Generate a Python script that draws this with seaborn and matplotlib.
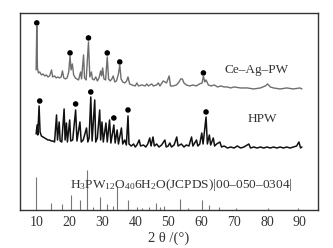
import numpy as np
import pandas as pd
import matplotlib
matplotlib.use("Agg")
import matplotlib.pyplot as plt
import seaborn as sns

# Ce-Ag-PW trace (2theta, intensity a.u.)
ce_x = [9.9, 10.1, 10.3, 10.6, 11.0, 11.5, 12.0, 12.5, 13.0, 13.5, 14.0, 14.6, 14.9, 15.5, 16.0,
        16.5, 17.0, 17.5, 17.9, 18.3, 18.8, 19.3, 19.8, 20.2, 20.5, 20.9, 21.3, 21.8, 22.3, 22.8,
        23.4, 23.7, 24.3, 24.6, 25.1, 25.8, 26.2, 26.7, 27.0, 27.5, 28.0, 28.5, 29.0, 29.5, 29.8,
        30.1, 30.5, 31.0, 31.5, 31.9, 32.4, 32.9, 33.3, 33.8, 34.3, 34.9, 35.3, 35.7, 36.2, 36.8,
        37.4, 37.8, 38.3, 39.0, 40.0, 40.5, 41.0, 42.0, 43.0, 43.5, 44.0, 45.0, 45.5, 46.5, 47.0,
        47.5, 48.5, 49.5, 50.3, 50.7, 51.5, 52.5, 53.3, 53.8, 54.3, 54.8, 55.5, 56.5, 57.5, 58.5,
        59.5, 60.3, 60.7, 61.1, 61.5, 62.2, 63.0, 64.0, 65.0, 66.0, 67.0, 68.0, 69.0, 70.0, 72.0,
        74.0, 76.0, 78.0, 79.5, 80.2, 81.0, 82.0, 84.0, 86.0, 88.0, 90.0, 90.6]
ce_y = [140, 184, 142, 137, 138, 135, 136, 134, 135, 133, 134, 140, 133, 134, 132,
        133, 132, 133, 139, 132, 131, 132, 138, 154, 140, 146, 135, 132, 131, 130,
        138, 131, 155, 132, 130, 168, 133, 138, 131, 130, 133, 129, 132, 139, 134,
        142, 131, 130, 153, 131, 129, 131, 134, 128, 129, 136, 145, 131, 128, 127,
        129, 133, 126, 125, 124, 127, 124, 125, 124, 126, 124, 126, 124, 125, 127,
        124, 129, 127, 134, 124, 124, 125, 128, 131, 131, 127, 125, 124, 125, 124,
        126, 127, 134, 128, 130, 125, 124, 125, 123, 124, 123, 123, 122, 123, 122,
        122, 121, 122, 124, 126, 123, 122, 121, 122, 121, 122, 121]

# HPW trace
hpw_x = [9.9, 10.2, 10.4, 10.8, 11.1, 11.5, 12.0, 12.5, 13.0, 13.5, 14.0, 14.5, 15.0, 15.5, 16.1,
         16.4, 16.9, 17.2, 17.7, 18.4, 18.7, 19.1, 19.4, 20.1, 20.4, 21.0, 21.9, 22.3, 23.2, 23.6,
         24.2, 25.2, 25.6, 26.0, 26.5, 26.9, 27.7, 28.0, 28.5, 29.2, 29.5, 29.9, 30.3, 31.1, 31.5,
         32.2, 32.6, 33.5, 33.9, 34.5, 34.9, 35.8, 36.2, 36.8, 37.3, 37.8, 38.1, 38.8, 39.5, 40.0,
         40.5, 41.2, 41.6, 42.5, 43.2, 43.8, 44.4, 44.8, 45.4, 45.8, 46.5, 47.2, 48.0, 49.0, 49.4,
         50.0, 50.5, 51.0, 51.8, 52.6, 53.0, 54.0, 54.8, 55.5, 56.3, 57.1, 57.5, 58.6, 59.0, 59.6,
         60.2, 60.6, 61.5, 61.9, 62.5, 62.9, 63.7, 64.1, 64.7, 65.7, 66.2, 67.0, 68.0, 69.0, 70.0,
         71.0, 72.0, 73.0, 74.5, 75.0, 76.0, 77.0, 78.0, 79.0, 80.0, 81.0, 82.0, 83.0, 84.0, 85.0,
         86.0, 87.0, 88.0, 89.0, 89.7, 90.2, 90.6]
hpw_y = [76, 85, 75, 104, 78, 74, 73, 72, 71, 70, 70, 69, 69, 68, 95,
         70, 88, 69, 68, 101, 70, 87, 68, 90, 69, 70, 100, 69, 88, 68,
         70, 82, 68, 72, 113, 69, 110, 68, 72, 100, 70, 88, 68, 87, 68,
         90, 67, 85, 67, 80, 66, 82, 66, 70, 65, 94, 66, 64, 66, 63,
         65, 70, 64, 65, 63, 66, 72, 64, 73, 64, 66, 63, 65, 70, 63,
         64, 67, 63, 65, 73, 64, 66, 63, 65, 64, 73, 64, 70, 64, 66,
         77, 66, 93, 66, 75, 65, 72, 64, 66, 68, 63, 64, 62, 63, 62,
         64, 62, 63, 66, 62, 63, 62, 63, 62, 63, 62, 63, 62, 63, 62,
         63, 62, 63, 64, 68, 62, 63]

# standard card H3PW12O40·6H2O (JCPDS 00-050-0304)
ref_pos = [10.0, 14.3, 17.7, 20.5, 23.1, 25.4, 27.3, 29.3, 31.3, 33.1, 34.5, 37.8, 40.5, 42.0,
           44.2, 46.2, 47.5, 48.7, 53.6, 56.0, 60.3, 62.4, 65.4, 70.6, 80.3, 89.5]
ref_int = [33, 7, 6, 15, 10, 40, 3, 13, 6, 4, 24, 10, 3, 2,
           3, 7, 3, 4, 11, 2, 10, 5, 3, 2, 2, 2]

# marked peaks
ce_dot_x = [10.1, 20.2, 25.8, 31.5, 35.3, 60.7]
ce_dot_y = [187, 157, 172, 157, 148, 137]
hpw_dot_x = [11.0, 21.9, 26.5, 33.5, 37.8, 61.5]
hpw_dot_y = [109, 106, 118, 92, 100, 98]

sns.set_style("white")
plt.rcParams["font.family"] = ["Liberation Serif", "DejaVu Serif"]
plt.rcParams["mathtext.fontset"] = "custom"
plt.rcParams["mathtext.rm"] = "Liberation Serif"
plt.rcParams["mathtext.it"] = "Liberation Serif:italic"

fig = plt.figure(figsize=(3.33, 2.48), dpi=100)
ax = fig.add_axes([0.060, 0.153, 0.895, 0.795])

ce = pd.DataFrame({"x": ce_x, "y": ce_y})
hpw = pd.DataFrame({"x": hpw_x, "y": hpw_y})
sns.lineplot(data=ce, x="x", y="y", ax=ax, color="#6e6e6e", lw=1.0, sort=False)
sns.lineplot(data=hpw, x="x", y="y", ax=ax, color="#111111", lw=1.1, sort=False)
ax.vlines(ref_pos, 0, ref_int, color="#777777", lw=0.8)

sns.scatterplot(x=ce_dot_x + hpw_dot_x, y=ce_dot_y + hpw_dot_y, ax=ax,
                color="black", s=16, edgecolor="none")

ax.text(76.7, 140, "Ce\u2013Ag\u2013PW", fontsize=9.5, color="#333333", ha="center", va="center")
ax.text(78.5, 91, "HPW", fontsize=9.5, color="#333333", ha="center", va="center")
ax.text(20.1, 25, "H$_3$PW$_{12}$O$_{40}$6H$_2$O(JCPDS)|00\u2013050\u20130304|",
        fontsize=9.6, color="#333333", ha="left", va="center")

ax.set_xlim(5, 95.5)
ax.set_ylim(0, 197)
ax.set_xticks([10, 20, 30, 40, 50, 60, 70, 80, 90])
ax.set_yticks([])
ax.tick_params(axis="x", length=0, pad=4, labelsize=10, colors="#333333")
ax.set_xlabel("2 \u03b8 /(\u00b0)", fontsize=10.5, color="#333333", labelpad=2)
ax.set_ylabel("")
for sp in ax.spines.values():
    sp.set_color("#333333")
    sp.set_linewidth(1.0)

fig.savefig("out.png", dpi=100)
